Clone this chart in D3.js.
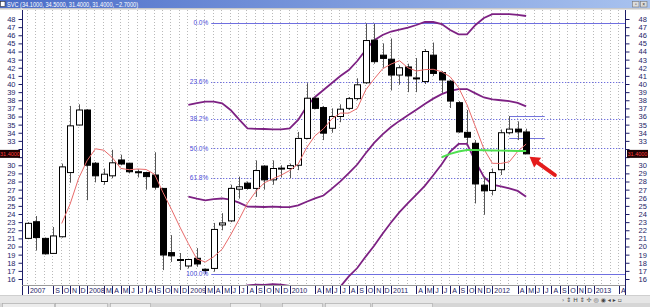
<!DOCTYPE html>
<html>
<head>
<meta charset="utf-8">
<script src="https://cdn.jsdelivr.net/npm/d3@7"></script>
<style>
  html, body { margin: 0; padding: 0; background: #fff; }
  svg { display: block; font-family: "Liberation Sans", Arial, sans-serif; }
</style>
</head>
<body>
<div id="chart"></div>
<script>
// monthly candles, Jun 2007 .. May 2012 (index 0 = Jun 2007)
const symbol = "SVC";
const opens = [21.0, 23.05, 21.0, 19.15, 21.2, 29.1, 34.95, 36.8, 30.25, 28.0, 28.7, 30.65, 30.25, 29.2, 29.1, 28.8, 27.15, 19.25, 18.4, 17.6, 18.55, 17.2, 17.3, 22.65, 23.15, 27.05, 27.8, 27.15, 29.9, 28.2, 29.6, 29.6, 30.0, 33.3, 38.25, 37.1, 34.55, 36.0, 37.0, 38.2, 40.15, 45.4, 43.55, 43.05, 41.1, 42.1, 40.7, 40.3, 43.55, 41.4, 40.35, 37.7, 34.05, 32.7, 27.55, 26.9, 29.45, 34.0, 34.45, 34.1];
const highs = [23.0, 23.75, 21.1, 22.4, 30.2, 37.3, 37.5, 36.9, 30.4, 29.6, 31.9, 31.3, 30.3, 29.5, 29.2, 31.6, 27.2, 21.4, 19.2, 18.5, 19.8, 17.3, 22.9, 24.1, 27.6, 28.6, 28.0, 30.6, 30.0, 30.6, 30.0, 30.2, 34.1, 40.1, 38.5, 37.3, 37.0, 37.5, 38.4, 40.7, 47.45, 47.4, 45.0, 45.6, 42.3, 42.5, 43.2, 44.3, 45.1, 41.6, 40.5, 37.9, 36.8, 33.1, 28.6, 29.6, 34.4, 36.05, 35.4, 34.5];
const lows = [20.9, 19.5, 19.0, 19.1, 21.1, 27.85, 34.9, 25.7, 27.9, 27.6, 28.4, 30.0, 29.0, 28.5, 27.0, 27.0, 17.1, 18.1, 17.1, 17.3, 17.5, 16.6, 16.9, 22.0, 23.0, 25.9, 27.0, 26.1, 27.0, 27.6, 28.5, 28.4, 29.4, 33.2, 36.9, 33.1, 34.0, 35.3, 36.8, 38.0, 40.0, 42.5, 42.0, 39.2, 39.9, 39.0, 39.0, 40.0, 41.0, 38.9, 37.05, 34.0, 32.7, 25.3, 23.9, 26.3, 28.8, 33.8, 33.1, 31.4];
const closes = [22.85, 21.1, 19.1, 21.3, 29.8, 34.85, 36.8, 30.0, 28.7, 28.9, 30.3, 30.15, 29.2, 29.15, 28.6, 27.3, 18.95, 18.85, 18.3, 18.4, 17.85, 17.05, 22.1, 22.9, 27.15, 27.35, 27.15, 29.35, 28.2, 29.6, 29.65, 29.95, 33.3, 38.25, 37.0, 33.95, 36.0, 36.9, 38.2, 39.9, 45.35, 42.75, 43.15, 41.1, 42.0, 41.0, 40.75, 44.0, 41.3, 40.5, 37.9, 34.1, 33.45, 27.7, 26.85, 29.1, 34.0, 34.45, 34.1, 31.4];

// red average line, starts at index 4
const maStart = 4;
const maValues = [22.83, 25.23, 28.37, 30.55, 32.03, 31.85, 30.94, 29.61, 29.45, 29.54, 29.48, 28.88, 26.64, 24.57, 22.4, 20.36, 18.47, 18.09, 18.74, 19.66, 21.41, 23.31, 25.33, 26.78, 27.84, 28.33, 28.79, 29.35, 30.14, 32.15, 33.63, 34.49, 35.7, 36.42, 36.41, 36.99, 39.27, 40.62, 41.87, 42.45, 42.87, 42.0, 41.6, 41.77, 41.81, 41.51, 40.89, 39.56, 37.45, 34.73, 32.0, 30.24, 30.22, 30.42, 31.7, 32.61];

// purple bands, start at index 19
const bandStart = 19;
const bandUpper = [37.42, 37.66, 37.82, 37.82, 37.62, 36.8, 35.65, 34.55, 34.47, 34.46, 34.42, 34.42, 34.55, 35.57, 37.2, 38.4, 39.26, 40.12, 40.98, 41.72, 42.83, 44.18, 45.4, 46.03, 46.46, 46.7, 46.95, 47.26, 47.63, 47.63, 47.38, 46.65, 46.12, 46.12, 47.26, 48.12, 48.6, 48.6, 48.6, 48.5, 48.37];
const bandMid = [26.13, 25.88, 25.68, 25.83, 25.91, 25.78, 25.4, 24.92, 24.89, 24.86, 24.9, 24.86, 24.85, 25.06, 25.51, 25.93, 26.27, 27.12, 28.02, 29.02, 30.09, 31.47, 32.75, 33.8, 34.71, 35.46, 36.14, 36.82, 37.55, 38.2, 38.75, 39.16, 39.37, 39.38, 38.85, 38.34, 38.1, 38.0, 37.88, 37.67, 37.25];
const bandLower = [14.84, 14.1, 13.54, 13.84, 14.2, 14.76, 15.0, 15.2, 15.31, 15.26, 15.38, 15.3, 15.15, 14.55, 13.82, 13.46, 13.28, 14.12, 15.06, 16.32, 17.35, 18.76, 20.1, 21.57, 22.96, 24.22, 25.33, 26.38, 27.47, 28.77, 30.12, 31.67, 32.62, 32.64, 30.44, 28.56, 27.6, 27.4, 27.16, 26.84, 26.13];

// green line, starts at index 49
const greenStart = 49;
const greenValues = [30.98, 31.4, 31.7, 31.88, 31.88, 31.85, 31.82, 31.8, 31.78, 31.76, 31.75];

// fibonacci retracement, drawn from the Mar 2009 low
const fibStart = 21;
const fibLabels = ["0.0%", "23.6%", "38.2%", "50.0%", "61.8%", "100.0%"];
const fibValues = [47.55, 40.25, 35.73, 32.08, 28.42, 16.6];

// two short blue levels near the last candles
const levelValues = [36.05, 33.4];
const levelFrom = 57, levelTo = 61.2;

// x axis labels: month index and text
const tickIdx = [0, 3, 4, 5, 6, 7, 9, 10, 11, 12, 13, 14, 15, 16, 17, 18, 19, 21, 22, 23, 24, 25, 26, 27, 28, 29, 30, 31, 34, 35, 36, 37, 38, 39, 40, 41, 42, 43, 46, 47, 48, 49, 50, 51, 52, 53, 54, 55, 58, 59, 60, 61, 62, 63, 64, 65, 66, 67, 70];
const tickText = ["2007", "S", "O", "N", "D", "2008", "M", "A", "M", "J", "J", "A", "S", "O", "N", "D", "2009", "M", "A", "M", "J", "J", "A", "S", "O", "N", "D", "2010", "A", "M", "J", "J", "A", "S", "O", "N", "D", "2011", "A", "M", "J", "J", "A", "S", "O", "N", "D", "2012", "A", "M", "J", "J", "A", "S", "O", "N", "D", "2013", "A"];

const W = 650, H = 307;
const plot = { left: 22, right: 625, top: 10, bottom: 285 };
const axisColor = "#1c1c66";
const purple = "#7d2183";

const svg = d3.select("#chart").append("svg").attr("width", W).attr("height", H);

const x = d3.scaleLinear().domain([0, 67]).range([27.9, 593.7]);
const y = d3.scaleLinear().domain([16, 48]).range([279, 19]);
const px = (v) => Math.round(v) + 0.5;

svg.append("rect").attr("width", W).attr("height", H).attr("fill", "#fff");

// title bar
const grad = svg.append("defs").append("linearGradient").attr("id", "tbar");
grad.append("stop").attr("offset", "0%").attr("stop-color", "#4a6cc8");
grad.append("stop").attr("offset", "100%").attr("stop-color", "#a9c3ef");
svg.append("rect").attr("x", 0).attr("y", 0).attr("width", W).attr("height", 8).attr("fill", "url(#tbar)");
svg.append("rect").attr("x", 0).attr("y", 8).attr("width", W).attr("height", 1.5).attr("fill", "#c8c8c8");
svg.append("rect").attr("x", 0.5).attr("y", 1.5).attr("width", 4.5).attr("height", 5).attr("fill", "#fff").attr("stroke", "#333").attr("stroke-width", 0.6);
const last = closes.length - 1;
const f4 = d3.format(".4f");
svg.append("text")
	.attr("x", 7).attr("y", 6.6)
	.attr("font-size", "6.5px").attr("fill", "#fff")
	.attr("textLength", 131).attr("lengthAdjust", "spacingAndGlyphs")
	.text(`${symbol} (${f4(opens[last])}, ${f4(highs[last])}, ${f4(lows[last])}, ${f4(closes[last])}, ${f4(closes[last] - closes[last - 1])})`);
[632, 640].forEach((bx, k) => {
	svg.append("rect").attr("x", bx + 0.5).attr("y", 1.5).attr("width", 6.5).attr("height", 5.5)
		.attr("fill", "#dcdcdc").attr("stroke", "#777").attr("stroke-width", 0.6);
	svg.append("text").attr("x", bx + 3.8).attr("y", 6.2).attr("text-anchor", "middle")
		.attr("font-size", "5px").attr("fill", "#333").text(k ? "×" : "▫");
});

// plot clip
svg.append("clipPath").attr("id", "plotclip").append("rect")
	.attr("x", plot.left).attr("y", plot.top)
	.attr("width", plot.right - plot.left).attr("height", plot.bottom - plot.top);

const g = svg.append("g").attr("clip-path", "url(#plotclip)");

// vertical dotted grid, one per month
g.append("g").selectAll("line")
	.data(d3.range(0, 71))
	.join("line")
	.attr("x1", (d) => px(x(d)) - 1).attr("x2", (d) => px(x(d)) - 1)
	.attr("y1", plot.top).attr("y2", plot.bottom)
	.attr("stroke", "#b9b9b9").attr("stroke-width", 1).attr("stroke-dasharray", "1,2");

// fibonacci lines
g.append("g").selectAll("line")
	.data(fibValues)
	.join("line")
	.attr("x1", x(fibStart) + 6).attr("x2", plot.right)
	.attr("y1", (d) => px(y(d))).attr("y2", (d) => px(y(d)))
	.attr("stroke", (d, i) => (i === 0 || i === fibValues.length - 1 ? "#6f6fe0" : "#4545d6"))
	.attr("stroke-width", 1)
	.attr("stroke-dasharray", (d, i) => (i === 0 || i === fibValues.length - 1 ? null : "1,2"));

svg.append("g").selectAll("text")
	.data(fibValues)
	.join("text")
	.attr("x", x(fibStart) + 3).attr("y", (d) => y(d) + 2.3)
	.attr("text-anchor", "end").attr("font-size", "6.5px").attr("fill", "#4a4ad8")
	.text((d, i) => fibLabels[i]);

// short blue levels
g.append("g").selectAll("line")
	.data(levelValues)
	.join("line")
	.attr("x1", x(levelFrom)).attr("x2", x(levelTo))
	.attr("y1", (d) => px(y(d))).attr("y2", (d) => px(y(d)))
	.attr("stroke", "#7474dc").attr("stroke-width", 1);

// bands
const line = d3.line().x((d) => x(d.i)).y((d) => y(d.v));
const series = (vals, start) => vals.map((v, k) => ({ i: start + k, v }));
[bandUpper, bandMid, bandLower].forEach((vals) => {
	g.append("path").datum(series(vals, bandStart))
		.attr("d", line).attr("fill", "none")
		.attr("stroke", purple).attr("stroke-width", 1.8);
});

// candles
const candles = opens.map((o, i) => ({ i, o, h: highs[i], l: lows[i], c: closes[i] }));
const cg = g.append("g");
cg.selectAll("line")
	.data(candles)
	.join("line")
	.attr("x1", (d) => px(x(d.i))).attr("x2", (d) => px(x(d.i)))
	.attr("y1", (d) => y(d.h)).attr("y2", (d) => y(d.l))
	.attr("stroke", "#555").attr("stroke-width", 1);
cg.selectAll("rect")
	.data(candles)
	.join("rect")
	.attr("x", (d) => Math.round(x(d.i)) - 3 + 0.5)
	.attr("y", (d) => y(Math.max(d.o, d.c)))
	.attr("width", 6)
	.attr("height", (d) => Math.max(1, Math.abs(y(d.o) - y(d.c))))
	.attr("fill", (d) => (d.c >= d.o ? "#fff" : "#000"))
	.attr("stroke", "#000").attr("stroke-width", 1);

// red average
g.append("path").datum(series(maValues, maStart))
	.attr("d", line).attr("fill", "none")
	.attr("stroke", "#e86a6a").attr("stroke-width", 1);

// green line
g.append("path").datum(series(greenValues, greenStart))
	.attr("d", line).attr("fill", "none")
	.attr("stroke", "#4fe04f").attr("stroke-width", 2);

// red arrow pointing at the last candle
const tip = [x(59.4), y(31.05)], tail = [x(62.4), y(28.8)];
const ang = Math.atan2(tip[1] - tail[1], tip[0] - tail[0]);
const hl = 10, hw = 6;
const base = [tip[0] - hl * Math.cos(ang), tip[1] - hl * Math.sin(ang)];
g.append("line")
	.attr("x1", tail[0]).attr("y1", tail[1]).attr("x2", base[0]).attr("y2", base[1])
	.attr("stroke", "#e41c1c").attr("stroke-width", 4).attr("stroke-linecap", "round");
g.append("polygon")
	.attr("points", [
		tip,
		[base[0] + hw * Math.sin(ang), base[1] - hw * Math.cos(ang)],
		[base[0] - hw * Math.sin(ang), base[1] + hw * Math.cos(ang)],
	].map((p) => p.join(",")).join(" "))
	.attr("fill", "#e41c1c");

// y axes (the label under the price tag is hidden, as in the original)
const lastY = y(closes[last]);
const yTicks = d3.range(16, 49);
const yFmt = (d) => (Math.abs(y(d) - lastY) < 5 ? "" : d3.format("d")(d));
const leftAxis = svg.append("g").attr("transform", `translate(${plot.left + 0.5},0)`)
	.call(d3.axisLeft(y).tickValues(yTicks).tickSize(4).tickSizeOuter(0).tickPadding(3).tickFormat(yFmt));
const rightAxis = svg.append("g").attr("transform", `translate(${plot.right + 0.5},0)`)
	.call(d3.axisRight(y).tickValues(yTicks).tickSize(4).tickSizeOuter(0).tickPadding(9).tickFormat(yFmt));
[leftAxis, rightAxis].forEach((a) => {
	a.select(".domain").remove();
	a.selectAll("line").attr("stroke", axisColor);
	a.selectAll("text").attr("font-size", "7.5px").attr("fill", axisColor).attr("font-family", "Liberation Sans, Arial, sans-serif");
});
[plot.left, plot.right].forEach((ax) => {
	svg.append("line").attr("x1", ax + 0.5).attr("x2", ax + 0.5).attr("y1", plot.top).attr("y2", plot.bottom + 10)
		.attr("stroke", axisColor).attr("stroke-width", 1);
});

// price tags
[[0, 20], [627, 21]].forEach(([tx, tw]) => {
	svg.append("rect").attr("x", tx).attr("y", lastY - 4).attr("width", tw).attr("height", 8).attr("fill", "#1b0303");
	svg.append("text").attr("x", tx + tw / 2).attr("y", lastY + 2).attr("text-anchor", "middle")
		.attr("font-size", "5.5px").attr("fill", "#ff3b3b").text(f4(closes[last]));
});

// x axis labels
const xg = svg.append("g");
xg.append("line").attr("x1", plot.left).attr("x2", plot.right).attr("y1", plot.bottom + 0.5).attr("y2", plot.bottom + 0.5)
	.attr("stroke", "#9a9a9a");
xg.selectAll("line.tk")
	.data(tickIdx)
	.join("line").attr("class", "tk")
	.attr("x1", (d) => px(x(d))).attr("x2", (d) => px(x(d)))
	.attr("y1", plot.bottom + 1).attr("y2", plot.bottom + 9)
	.attr("stroke", axisColor);
xg.selectAll("text")
	.data(tickIdx)
	.join("text")
	.attr("x", (d) => x(d) + 2).attr("y", plot.bottom + 8)
	.attr("font-size", "7px").attr("fill", axisColor)
	.text((d, i) => tickText[i]);

// bottom toolbar
svg.append("rect").attr("x", 0).attr("y", 295).attr("width", W).attr("height", 8).attr("fill", "#e6e6e6");
svg.append("line").attr("x1", 0).attr("x2", W).attr("y1", 295.5).attr("y2", 295.5).attr("stroke", "#cfcfcf");
svg.append("text").attr("x", 562).attr("y", 301.5).attr("font-size", "6px").attr("fill", "#444")
	.attr("font-family", "DejaVu Sans, sans-serif")
	.text("›  ⇕ H  ⇕ ✢ ◎ ◉  ◂ ▸ ▫");
svg.append("rect").attr("x", 0).attr("y", 303).attr("width", W).attr("height", 4).attr("fill", "#d6d6d6");
[[2, 52], [55, 52], [110, 40], [230, 30], [282, 40], [325, 45], [372, 60]].forEach(([tx, tw]) => {
	svg.append("rect").attr("x", tx + 0.5).attr("y", 303.5).attr("width", tw).attr("height", 4)
		.attr("fill", "#ececec").attr("stroke", "#a8a8a8").attr("stroke-width", 0.6);
});
</script>
</body>
</html>
